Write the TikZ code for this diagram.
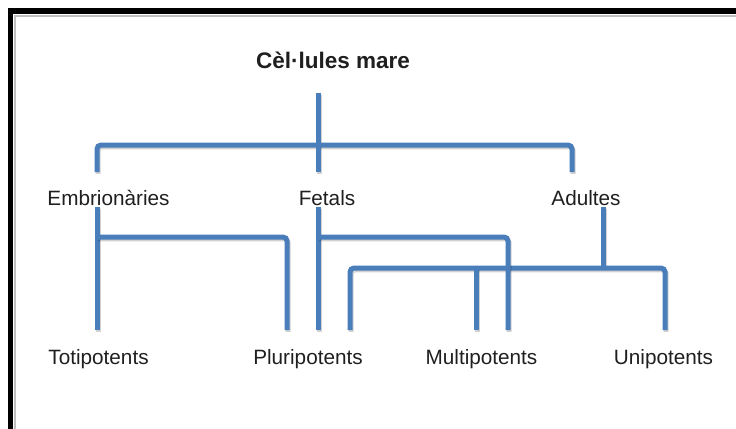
\documentclass[tikz,border=0pt]{standalone}
\usepackage{fontspec}
\setmainfont{Liberation Sans}
\begin{document}
\begin{tikzpicture}[x=1bp,y=-1bp,
  lbl/.style={anchor=base,inner sep=0pt,text=black!88,font=\fontsize{20.8}{24}\selectfont},
  rootlbl/.style={lbl,font=\fontsize{22.6}{26}\selectfont\bfseries},
  conn/.style={draw=linkblue,line width=5bp,rounded corners=4bp,
    preaction={draw=black,opacity=0.18,line width=5bp,transform canvas={shift={(1.2bp,-1.8bp)}}}}
]
\definecolor{linkblue}{HTML}{4A7EBB}
\useasboundingbox (0,0) rectangle (736,428);
\clip (0,0) rectangle (736,428);
\fill[white] (0,0) rectangle (736,428);
% frame
\draw[black!25,line width=2bp] (15,440) -- (15,16) -- (750,16);
\draw[black,line width=5.5bp] (10.5,440) -- (10.5,10.8) -- (750,10.8);
% labels
\node[rootlbl] (root) at (333,68) {Cèl·lules mare};
\node[lbl] (emb) at (108.5,205) {Embrionàries};
\node[lbl] (fet) at (327,205) {Fetals};
\node[lbl] (adu) at (586,205) {Adultes};
\node[lbl] (toti) at (98.5,364) {Totipotents};
\node[lbl] (pluri) at (308,364) {Pluripotents};
\node[lbl] (multi) at (481.5,364) {Multipotents};
\node[lbl] (uni) at (663.5,364) {Unipotents};
% junction coordinates
\coordinate (rtop) at (318,93);
\coordinate (rj) at (318,145);
\coordinate (embin) at (97,172);
\coordinate (fetin) at (318,172);
\coordinate (aduin) at (572,172);
\coordinate (embout) at (97,207);
\coordinate (fetout) at (318,207);
\coordinate (aduout) at (603,207);
\coordinate (embj) at (97,237);
\coordinate (fetj) at (318,237);
\coordinate (aduj) at (603,268);
\coordinate (totiin) at (97,330);
\coordinate (pluriinA) at (287,330);
\coordinate (pluriinB) at (318,330);
\coordinate (pluriinC) at (350,330);
\coordinate (multiinA) at (476,330);
\coordinate (multiinB) at (508,330);
\coordinate (uniin) at (665,330);
% connectors
\draw[conn] (rtop) -- (rj);
\draw[conn] (embin) |- (rj) -| (aduin);
\draw[conn] (rj) -- (fetin);
\draw[conn] (embout) -- (totiin);
\draw[conn] (embj) -| (pluriinA);
\draw[conn] (fetout) -- (pluriinB);
\draw[conn] (aduout) -- (aduj);
\draw[conn] (pluriinC) |- (aduj) -| (uniin);
\draw[conn] (multiinA) -- (multiinA |- aduj);
\draw[conn] (fetj) -| (multiinB);
\end{tikzpicture}
\end{document}
